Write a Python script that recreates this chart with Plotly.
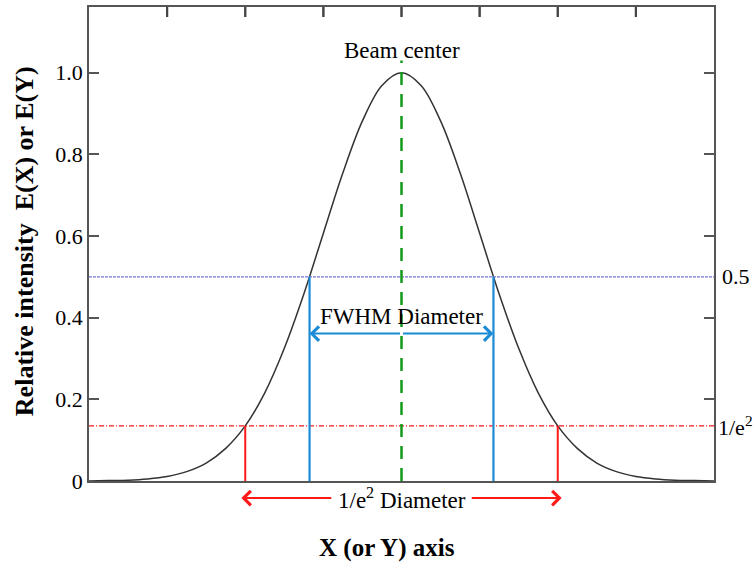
import plotly.graph_objects as go

# ---- data ----
x_pos = [-4.0, -3.75, -3.5, -3.25, -3.0, -2.75, -2.5, -2.25, -2.0, -1.75, -1.5, -1.25, -1.0,
         -0.75, -0.5, -0.25, 0.0, 0.25, 0.5, 0.75, 1.0, 1.25, 1.5, 1.75, 2.0, 2.25, 2.5,
         2.75, 3.0, 3.25, 3.5, 3.75, 4.0]
intensity = [0.000, 0.001, 0.002, 0.005, 0.011, 0.023, 0.044, 0.080, 0.135, 0.216, 0.325,
             0.458, 0.607, 0.755, 0.882, 0.969, 1.000, 0.969, 0.882, 0.755, 0.607, 0.458,
             0.325, 0.216, 0.135, 0.080, 0.044, 0.023, 0.011, 0.005, 0.002, 0.001, 0.000]
half_level = 0.5
e2_level = 0.135
fwhm_half_width = 1.177
e2_half_width = 2.0
center_top = 1.03
x_ticks = [-3, -2, -1, 0, 1, 2, 3]
y_ticks = [0, 0.2, 0.4, 0.6, 0.8, 1.0]
y_tick_text = ["0", "0.2", "0.4", "0.6", "0.8", "1.0"]

SERIF = "Liberation Serif, Times New Roman, serif"
BLUE = "#1b8bd6"
RED = "#ff1a1a"
GREEN = "#12991a"
AXIS = "#555555"
X_RANGE = [-4, 4]
Y_RANGE = [0, 1.161]
PLOT_H = 476  # plot-area height in px
TICK_LEN_Y = 10 * (Y_RANGE[1] - Y_RANGE[0]) / PLOT_H

fig = go.Figure()

# Gaussian curve
fig.add_trace(go.Scatter(x=x_pos, y=intensity, mode="lines", line=dict(color="#333333", width=1.5, shape="spline"),
                         hoverinfo="skip", showlegend=False))

# horizontal reference lines (as traces spanning the axis range)
fig.add_trace(go.Scatter(x=X_RANGE, y=[half_level, half_level], mode="lines",
                         line=dict(color="#7474d4", width=1.2, dash="3px,1px"), showlegend=False, hoverinfo="skip"))
fig.add_trace(go.Scatter(x=X_RANGE, y=[e2_level, e2_level], mode="lines",
                         line=dict(color=RED, width=1.2, dash="5px,2px,1px,2px"), showlegend=False, hoverinfo="skip"))

# red 1/e^2 verticals
for s in (-1, 1):
    fig.add_trace(go.Scatter(x=[s * e2_half_width] * 2, y=[0, e2_level], mode="lines",
                             line=dict(color=RED, width=2), showlegend=False, hoverinfo="skip"))
# blue FWHM verticals
for s in (-1, 1):
    fig.add_trace(go.Scatter(x=[s * fwhm_half_width] * 2, y=[0, half_level], mode="lines",
                             line=dict(color=BLUE, width=2.2), showlegend=False, hoverinfo="skip"))
# green dashed center
fig.add_trace(go.Scatter(x=[0, 0], y=[0, center_top], mode="lines",
                         line=dict(color=GREEN, width=2.5, dash="13px,9px"), showlegend=False, hoverinfo="skip"))

# top-edge inward tick marks built from x_ticks
tx, ty = [], []
for t in x_ticks:
    tx += [t, t, None]
    ty += [Y_RANGE[1], Y_RANGE[1] - TICK_LEN_Y, None]
fig.add_trace(go.Scatter(x=tx, y=ty, mode="lines", line=dict(color="#444444", width=2),
                         showlegend=False, hoverinfo="skip", cliponaxis=False))
for t in x_ticks:
    fig.add_shape(type="line", xref="x", yref="y", x0=t, x1=t, y0=Y_RANGE[1], y1=Y_RANGE[1] - TICK_LEN_Y,
                  line=dict(color="#444444", width=2), layer="above")

ann = []
# FWHM arrows
arrow_y = 0.361
for s in (-1, 1):
    ann.append(dict(x=s * fwhm_half_width, y=arrow_y, xref="x", yref="y", ax=0, ay=arrow_y,
                    axref="x", ayref="y", text="", showarrow=True, arrowhead=4, arrowsize=1.4,
                    arrowwidth=2, arrowcolor=BLUE, standoff=0, startstandoff=0))
ann.append(dict(x=0, y=0.403, xref="x", yref="y", text="FWHM Diameter", showarrow=False,
                font=dict(family=SERIF, size=23, color="black")))
# 1/e^2 diameter arrows below axis (paper y)
d_y = -0.036
for s in (-1, 1):
    ann.append(dict(x=s * (e2_half_width + 0.05), y=d_y, xref="x", yref="paper", ax=s * 0.88, ay=0,
                    axref="x", ayref="pixel", text="", showarrow=True, arrowhead=4, arrowsize=1.4,
                    arrowwidth=2, arrowcolor=RED, standoff=0, startstandoff=0))
ann.append(dict(x=0, y=d_y, xref="x", yref="paper", yanchor="middle", text="1/e<sup>2</sup> Diameter",
                showarrow=False, font=dict(family=SERIF, size=23, color="black")))
# beam center
ann.append(dict(x=0, y=1.054, xref="x", yref="y", text="Beam center", showarrow=False,
                font=dict(family=SERIF, size=23, color="black")))
# right side labels
ann.append(dict(x=1, y=half_level, xref="paper", yref="y", xanchor="left", xshift=6, text="0.5",
                showarrow=False, font=dict(family=SERIF, size=22, color="black")))
ann.append(dict(x=1, y=e2_level, xref="paper", yref="y", xanchor="left", xshift=2, text="1/e<sup>2</sup>",
                showarrow=False, font=dict(family=SERIF, size=22, color="black")))
# axis titles
ann.append(dict(x=0, y=0.506, xref="paper", yref="paper", xanchor="center", yanchor="middle", xshift=-65,
                textangle=-90, text="<b>Relative intensity  E(X) or E(Y)</b>", showarrow=False,
                font=dict(family=SERIF, size=26, color="black")))
ann.append(dict(x=0.477, y=0, xref="paper", yref="paper", yanchor="middle", yshift=-67,
                text="<b>X (or Y) axis</b>", showarrow=False, font=dict(family=SERIF, size=25, color="black")))

fig.update_layout(
    width=755, height=565,
    margin=dict(l=89, r=41, t=5, b=84),
    paper_bgcolor="white", plot_bgcolor="white",
    showlegend=False,
    annotations=ann,
    xaxis=dict(range=X_RANGE, showgrid=False, zeroline=False, showline=True, linecolor=AXIS,
               linewidth=1.5, mirror=True, ticks="", showticklabels=False),
    yaxis=dict(range=Y_RANGE, showgrid=False, zeroline=False, showline=True, linecolor=AXIS, linewidth=1.5,
               mirror="ticks", ticks="inside", ticklen=10, tickwidth=1.5, tickcolor=AXIS,
               tickvals=y_ticks, ticktext=y_tick_text, tickfont=dict(family=SERIF, size=22, color="black")),
)

fig.write_html("out.html", config={"displayModeBar": False},
               post_script="document.body.style.margin='0';document.body.style.padding='0';")
